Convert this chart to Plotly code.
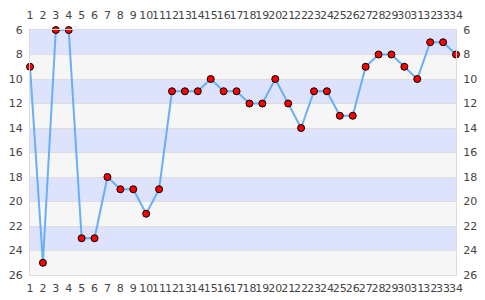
import plotly.graph_objects as go

rounds = list(range(1, 35))
positions = [9, 25, 6, 6, 23, 23, 18, 19, 19, 21, 19, 11, 11, 11, 10, 11, 11, 12, 12, 10,
             12, 14, 11, 11, 13, 13, 9, 8, 8, 9, 10, 7, 7, 8]
y_ticks = [6, 8, 10, 12, 14, 16, 18, 20, 22, 24, 26]

fig = go.Figure()
fig.add_trace(go.Scatter(
    x=rounds, y=positions, mode="lines+markers",
    line=dict(color="#6aaef5", width=2),
    marker=dict(color="#ff0000", size=7, line=dict(color="#000000", width=1)),
    cliponaxis=False, hoverinfo="x+y", showlegend=False))
fig.add_trace(go.Scatter(x=rounds, y=positions, xaxis="x2", yaxis="y2",
                         mode="markers", marker=dict(opacity=0), hoverinfo="skip",
                         showlegend=False))

shapes = []
for i in range(len(y_ticks) - 1):
    shapes.append(dict(type="rect", xref="paper", yref="y", x0=0, x1=1,
                       y0=y_ticks[i], y1=y_ticks[i + 1], layer="below", line=dict(width=0),
                       fillcolor="#dde3fd" if i % 2 == 0 else "#f6f6f6"))

font = dict(family="DejaVu Sans", size=11, color="#444444")
axx = dict(range=[1, 34], tickmode="array", tickvals=rounds, ticktext=[str(r) for r in rounds],
           showgrid=False, zeroline=False, tickfont=font, ticks="", ticklen=0,
           tickangle=0, automargin=False)
axy = dict(range=[26, 6], tickmode="array", tickvals=y_ticks, showgrid=True, gridcolor="#dddddd",
           gridwidth=1, zeroline=False, tickfont=font, ticks="", automargin=False,
           ticklabelstandoff=4)

fig.update_layout(
    width=485, height=300, margin=dict(l=30, r=29, t=30, b=25),
    paper_bgcolor="white", plot_bgcolor="rgba(0,0,0,0)",
    shapes=shapes,
    xaxis=dict(**axx, showline=True, linecolor="#dddddd", side="bottom", ticklabelstandoff=3),
    xaxis2=dict(**axx, overlaying="x", side="top", showline=True, linecolor="#dddddd",
                ticklabelstandoff=6),
    yaxis=dict(**axy, showline=True, linecolor="#dddddd", side="left"),
    yaxis2=dict(**axy, overlaying="y", side="right", showline=True, linecolor="#dddddd"),
    font=font,
)
fig.write_html("out.html")
